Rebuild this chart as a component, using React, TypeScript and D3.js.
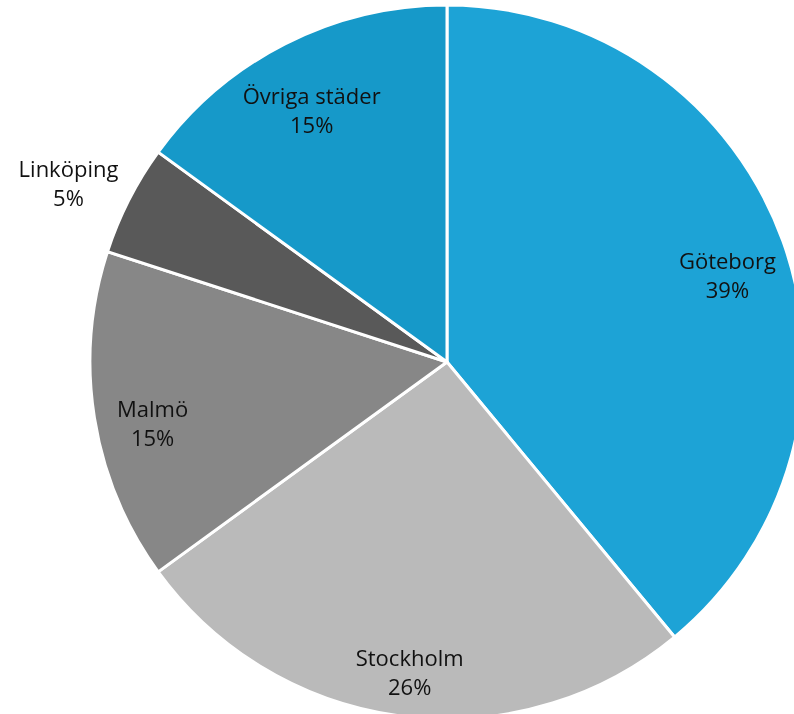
import React from "react";
import * as d3 from "d3";

const categories = ["Göteborg", "Stockholm", "Malmö", "Linköping", "Övriga städer"];
const values = [39, 26, 15, 5, 15];
const colors = ["#1da3d6", "#bababa", "#878787", "#595959", "#1699c9"];
const outsideLabel = [false, false, false, true, false];

const W = 794;
const H = 714;

export default function App() {
  const cx = 447;
  const cy = 362;
  const R = 357;
  const pie = d3.pie<number>().sort(null).value((d) => d)(values);
  const arc = d3.arc<d3.PieArcDatum<number>>().innerRadius(0).outerRadius(R);
  const labelIn = d3.arc<d3.PieArcDatum<number>>().innerRadius(R * 0.835).outerRadius(R * 0.835);
  const labelOut = d3.arc<d3.PieArcDatum<number>>().innerRadius(R * 1.19).outerRadius(R * 1.19);
  return (
    <svg width={W} height={H} style={{ position: "fixed", left: 0, top: 0 }}>
      <g transform={`translate(${cx},${cy})`}>
        {pie.map((p, i) => (
          <path key={i} d={arc(p) || ""} fill={colors[i]} stroke="#fff" strokeWidth={3} strokeLinejoin="round" />
        ))}
        {pie.map((p, i) => {
          const [x, y] = (outsideLabel[i] ? labelOut : labelIn).centroid(p);
          return (
            <text key={i} textAnchor="middle" fontFamily="'Open Sans', sans-serif" fontSize={22} fill="#111">
              <tspan x={x} y={y + 8}>{categories[i]}</tspan>
              <tspan x={x} y={y + 37}>{values[i]}%</tspan>
            </text>
          );
        })}
      </g>
    </svg>
  );
}
